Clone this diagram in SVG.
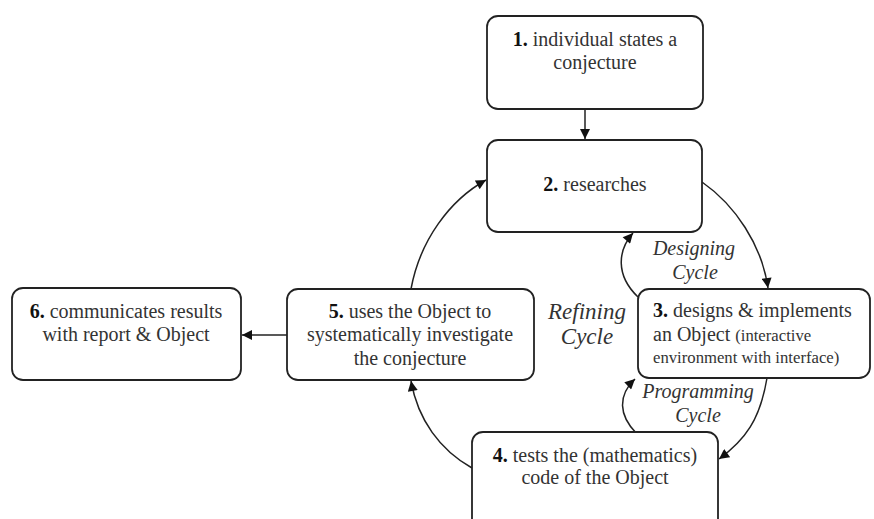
<svg xmlns="http://www.w3.org/2000/svg" width="874" height="519" viewBox="0 0 874 519">
<defs>
<marker id="arr" viewBox="0 0 10 10" refX="10" refY="5" markerWidth="11" markerHeight="10" markerUnits="userSpaceOnUse" orient="auto">
<path d="M0,0 L10,5 L0,10 z" fill="#111"/>
</marker>
</defs>
<style>
.box{fill:#fff;stroke:#222;stroke-width:1.8}
text{font-family:'Liberation Serif','DejaVu Serif',serif}
.t{font-size:20px;fill:#333}
.b{font-weight:bold;fill:#111}
.s{font-size:16.7px}
.lbl{font-style:italic;font-size:20px;fill:#333;text-anchor:middle}
.c{fill:none;stroke:#222;stroke-width:1.5;marker-end:url(#arr)}
</style>
<rect width="874" height="519" fill="#fff"/>
<g id="connectors">
<path class="c" d="M585,109 L585,139"/>
<path class="c" d="M411,289 C420,240 450,200 486,180"/>
<path class="c" d="M702,182 C735,205 762,245 768,288"/>
<path class="c" d="M638,297 C615,275 618,250 633,233"/>
<path class="c" d="M767,378 C760,420 745,440 719,459"/>
<path class="c" d="M637,434 C618,415 618,395 635,379"/>
<path class="c" d="M472,468 C440,450 418,420 411,381"/>
<path class="c" d="M287,335 L242,335"/>
</g>
<g id="node1">
<rect class="box" x="487" y="16" width="216" height="93" rx="11"/>
<text class="t" x="595" y="46" text-anchor="middle" font-family="Liberation Serif, serif"><tspan class="b">1.</tspan> individual states a</text>
<text class="t" x="595" y="69" text-anchor="middle" font-family="Liberation Serif, serif">conjecture</text>
</g>
<g id="node2">
<rect class="box" x="487" y="140" width="215" height="92" rx="11"/>
<text class="t" x="595" y="191" text-anchor="middle"><tspan class="b">2.</tspan> researches</text>
</g>
<g id="node3">
<rect class="box" x="638" y="289" width="232" height="89" rx="11"/>
<text class="t" x="653" y="317"><tspan class="b">3.</tspan> designs &amp; implements</text>
<text class="t" x="653" y="341">an Object <tspan class="s">(interactive</tspan></text>
<text class="t s" x="653" y="363">environment with interface)</text>
</g>
<g id="node4">
<rect class="box" x="472" y="432" width="246" height="100" rx="11"/>
<text class="t" x="595" y="462" text-anchor="middle"><tspan class="b">4.</tspan> tests the (mathematics)</text>
<text class="t" x="595" y="484" text-anchor="middle">code of the Object</text>
</g>
<g id="node5">
<rect class="box" x="287" y="289" width="247" height="91" rx="11"/>
<text class="t" x="410" y="318" text-anchor="middle"><tspan class="b">5.</tspan> uses the Object to</text>
<text class="t" x="410" y="341" text-anchor="middle">systematically investigate</text>
<text class="t" x="410" y="365" text-anchor="middle">the conjecture</text>
</g>
<g id="node6">
<rect class="box" x="12" y="288" width="229" height="92" rx="11"/>
<text class="t" x="126" y="318" text-anchor="middle"><tspan class="b">6.</tspan> communicates results</text>
<text class="t" x="126" y="341" text-anchor="middle">with report &amp; Object</text>
</g>
<g id="labels">
<text class="lbl" x="587" y="319" style="font-size:23px">Refining</text>
<text class="lbl" x="587" y="344" style="font-size:23px">Cycle</text>
<text class="lbl" x="694" y="255">Designing</text>
<text class="lbl" x="695" y="279">Cycle</text>
<text class="lbl" x="698" y="398">Programming</text>
<text class="lbl" x="698" y="422">Cycle</text>
</g>
</svg>
